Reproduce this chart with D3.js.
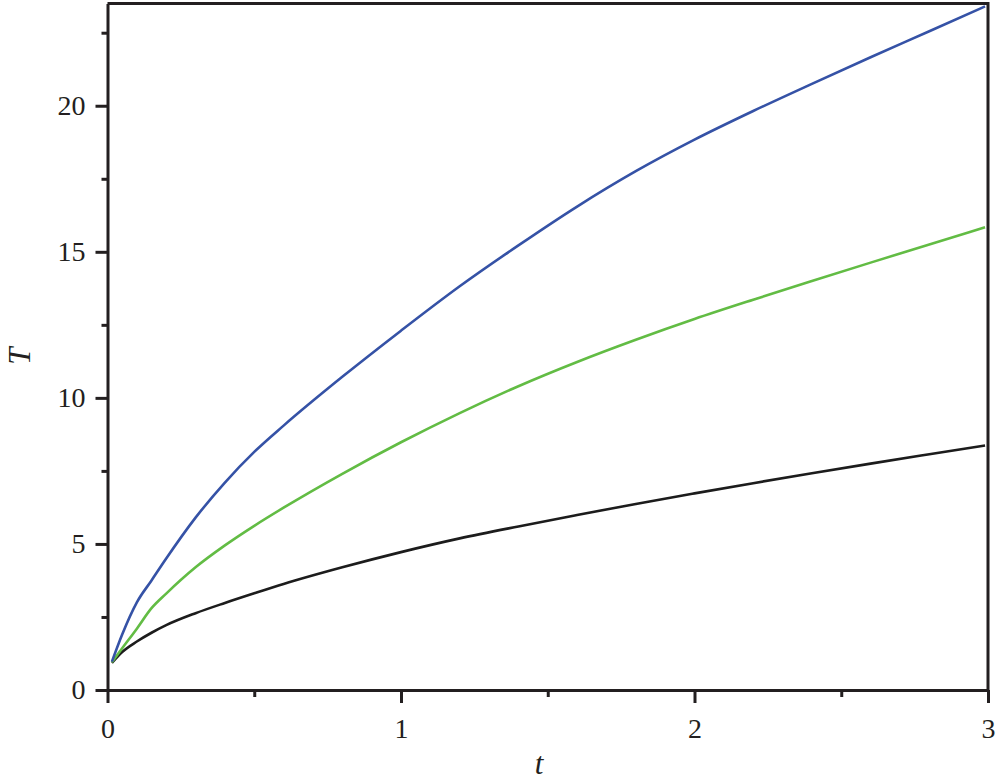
<!DOCTYPE html>
<html>
<head>
<meta charset="utf-8">
<script src="https://cdn.jsdelivr.net/npm/d3@7"></script>
<style>
  body { margin: 0; background: #fff; }
  svg text { font-family: "Liberation Serif", "DejaVu Serif Condensed", "DejaVu Serif", serif; font-stretch: condensed; }
</style>
</head>
<body>
<svg id="chart" width="997" height="780"></svg>
<script>
// sample times (t)
var tVals = [0.015, 0.05, 0.1, 0.15, 0.2, 0.3, 0.4, 0.5, 0.6, 0.8, 1.0, 1.2, 1.4, 1.6, 1.8, 2.0, 2.2, 2.4, 2.6, 2.8, 2.99];
// T values per curve
var blueT  = [0.97, 1.9, 3.0, 3.75, 4.5, 5.9, 7.1, 8.15, 9.05, 10.72, 12.3, 13.82, 15.22, 16.55, 17.76, 18.84, 19.82, 20.75, 21.66, 22.55, 23.4];
var greenT = [0.95, 1.43, 2.1, 2.8, 3.3, 4.2, 4.95, 5.62, 6.24, 7.4, 8.48, 9.48, 10.4, 11.23, 11.99, 12.7, 13.36, 14.0, 14.63, 15.25, 15.84];
var blackT = [0.93, 1.3, 1.66, 1.96, 2.22, 2.63, 2.98, 3.31, 3.63, 4.2, 4.72, 5.19, 5.6, 5.99, 6.37, 6.73, 7.08, 7.42, 7.75, 8.07, 8.37];
var series = [
    { name: "black", values: blackT, color: "#1c1c1c" },
    { name: "green", values: greenT, color: "#62bc44" },
    { name: "blue",  values: blueT,  color: "#3552a6" }
];
var xTicks = [0, 1, 2, 3];
var xMinor = [0.5, 1.5, 2.5];
var yTicks = [0, 5, 10, 15, 20];
var yMinor = [2.5, 7.5, 12.5, 17.5, 22.5];

var svg = d3.select("#chart"),
    margin = { top: 3.5, right: 9, bottom: 90, left: 107.5 },
    width = 997 - margin.left - margin.right,
    height = 780 - margin.top - margin.bottom,
    g = svg.append("g").attr("transform", "translate(" + margin.left + "," + margin.top + ")");

var x = d3.scaleLinear().domain([0, 3]).range([0, width]);
var y = d3.scaleLinear().domain([0, 23.5]).range([height, 0]);

// frame top/right
g.append("path")
    .attr("d", "M0,0H" + width + "V" + height)
    .attr("fill", "none")
    .attr("stroke", "#231f20")
    .attr("stroke-width", 3);

// minor ticks
g.append("g")
    .attr("transform", "translate(0," + height + ")")
    .call(d3.axisBottom(x).tickValues(xMinor).tickSize(7).tickFormat("").tickSizeOuter(0))
    .call(a => a.select(".domain").remove());
g.append("g")
    .call(d3.axisLeft(y).tickValues(yMinor).tickSize(6).tickFormat("").tickSizeOuter(0))
    .call(a => a.select(".domain").remove());

// major axes
var axX = g.append("g")
    .attr("transform", "translate(0," + height + ")")
    .call(d3.axisBottom(x).tickValues(xTicks).tickSize(13).tickPadding(15).tickSizeOuter(0).tickFormat(d3.format("d")));
var axY = g.append("g")
    .call(d3.axisLeft(y).tickValues(yTicks).tickSize(12).tickPadding(10).tickSizeOuter(0));

[axX, axY].forEach(function (a) {
    a.selectAll("text").attr("font-size", 28).attr("fill", "#231f20");
});
g.selectAll(".tick line").attr("stroke", "#231f20").attr("stroke-width", 3);
g.selectAll(".domain").attr("stroke", "#231f20").attr("stroke-width", 3);

// curves
var line = d3.line()
    .x(function (d, i) { return x(tVals[i]); })
    .y(function (d) { return y(d); })
    .curve(d3.curveMonotoneX);

g.append("g").selectAll("path")
    .data(series)
    .enter().append("path")
    .attr("fill", "none")
    .attr("stroke", function (d) { return d.color; })
    .attr("stroke-width", 2.6)
    .attr("d", function (d) { return line(d.values); });

// axis titles
svg.append("text")
    .attr("x", 539)
    .attr("y", 774)
    .attr("text-anchor", "middle")
    .attr("font-size", 31)
    .attr("font-style", "italic")
    .attr("fill", "#231f20")
    .text("t");

svg.append("text")
    .attr("transform", "translate(30,356) rotate(-90)")
    .attr("text-anchor", "middle")
    .attr("font-size", 31)
    .attr("font-style", "italic")
    .attr("fill", "#231f20")
    .text("T");
</script>
</body>
</html>
